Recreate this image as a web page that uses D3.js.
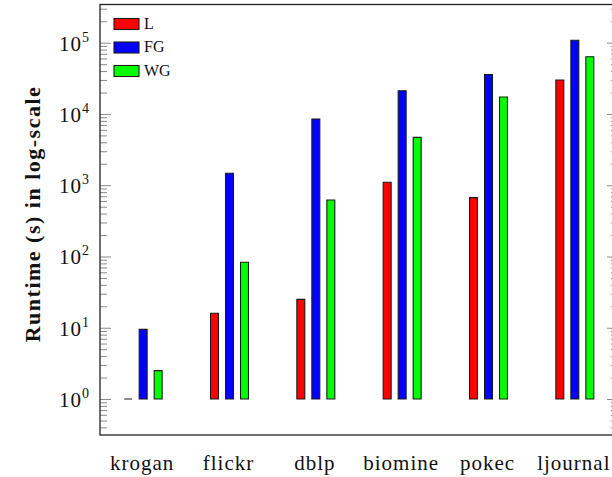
<!DOCTYPE html>
<html>
<head>
<meta charset="utf-8">
<script src="https://cdn.jsdelivr.net/npm/d3@7/dist/d3.min.js"></script>
<style>
  html, body { margin: 0; padding: 0; background: #fff; }
  svg { display: block; }
  text { font-family: "Liberation Serif", "DejaVu Serif", serif; fill: #111; }
</style>
</head>
<body>
<svg id="chart" width="612" height="477"></svg>
<script>
// Runtime per dataset for the three methods
const categories = ["krogan", "flickr", "dblp", "biomine", "pokec", "ljournal"];
const seriesNames = ["L", "FG", "WG"];
const valuesL  = [1, 16, 25, 1100, 670, 30000];
const valuesFG = [9.5, 1470, 8500, 21200, 35600, 108000];
const valuesWG = [2.5, 83, 620, 4700, 17300, 63600];
const seriesColors = ["#ff0000", "#0000ff", "#00ff00"];
const majorTicks = [1, 10, 100, 1000, 10000, 100000];
const tickExponents = ["0", "1", "2", "3", "4", "5"];

const svg = d3.select("#chart");
const plot = { left: 100, right: 618, top: 4.5, bottom: 435 };

const x0 = d3.scalePoint().domain(categories).range([plot.left, plot.right]).padding(0.5);
const x1 = d3.scaleBand().domain(seriesNames).range([-22.5, 22.5]).paddingInner(0.47).paddingOuter(0.235);
const y = d3.scaleLog().domain([Math.pow(10, -0.505), Math.pow(10, 5.536)]).range([plot.bottom, plot.top]);
const color = d3.scaleOrdinal().domain(seriesNames).range(seriesColors);

const seriesValues = [valuesL, valuesFG, valuesWG];
const bars = [];
categories.forEach((c, i) => {
  seriesNames.forEach((s, j) => bars.push({ cat: c, series: s, value: seriesValues[j][i] }));
});

// minor + major ticks on left (inward) and right (inward)
const allTicks = y.ticks().filter(t => t >= y.domain()[0] && t <= y.domain()[1]);
const isMajor = t => Math.abs(Math.log10(t) - Math.round(Math.log10(t))) < 1e-9;

const leftAxis = d3.axisRight(y).tickValues(allTicks).tickFormat("").tickSizeOuter(0);
const gL = svg.append("g").attr("transform", `translate(${plot.left},0)`).call(leftAxis);
gL.select(".domain").remove();
gL.selectAll(".tick line")
  .attr("x2", d => isMajor(d) ? 11 : 7)
  .attr("stroke", "#8a8a8a").attr("stroke-width", 1);

const rightAxis = d3.axisLeft(y).tickValues(allTicks).tickFormat("").tickSizeOuter(0);
const gR = svg.append("g").attr("transform", `translate(${plot.right},0)`).call(rightAxis);
gR.select(".domain").remove();
gR.selectAll(".tick line")
  .attr("x2", d => isMajor(d) ? -11 : -7)
  .attr("stroke", "#8a8a8a").attr("stroke-width", 1);

// bars (drawn as closed paths so a zero-height bar still shows its outline)
svg.append("g").selectAll("path.bar").data(bars).join("path")
  .attr("class", "bar")
  .attr("d", d => {
    const xl = x0(d.cat) + x1(d.series);
    const w = x1.bandwidth();
    const yt = y(d.value), yb = y(1);
    const p = d3.path();
    p.rect(xl, yt, w, yb - yt);
    return p.toString();
  })
  .attr("fill", d => color(d.series))
  .attr("stroke", "#1a1a1a")
  .attr("stroke-width", 1.1);

// frame
svg.append("rect")
  .attr("x", plot.left).attr("y", plot.top)
  .attr("width", plot.right - plot.left).attr("height", plot.bottom - plot.top)
  .attr("fill", "none").attr("stroke", "#222").attr("stroke-width", 1.3);

// y tick labels 10^k
const yLabels = svg.append("g");
majorTicks.forEach((t, i) => {
  const txt = yLabels.append("text")
    .attr("x", 89).attr("y", y(t) + 8)
    .attr("text-anchor", "end")
    .style("font-size", "21px");
  txt.append("tspan").style("letter-spacing", "1px").text("10");
  txt.append("tspan").attr("dy", -9).style("font-size", "14px").text(tickExponents[i]);
});

// x category labels
svg.append("g").selectAll("text.cat").data(categories).join("text")
  .attr("class", "cat")
  .attr("x", d => x0(d) - 1).attr("y", 470)
  .attr("text-anchor", "middle")
  .style("font-size", "21px").style("letter-spacing", "1px")
  .text(d => d);

// y axis title
svg.append("text")
  .attr("transform", "translate(40,214) rotate(-90)")
  .attr("text-anchor", "middle")
  .style("font-size", "22px").style("font-weight", "bold").style("letter-spacing", "1.5px")
  .text("Runtime (s) in log-scale");

// legend
const legend = svg.append("g");
seriesNames.forEach((s, i) => {
  const ly = 18.5 + i * 23.5;
  legend.append("rect").attr("x", 114).attr("y", ly).attr("width", 25).attr("height", 11)
    .attr("fill", color(s)).attr("stroke", "#1a1a1a").attr("stroke-width", 1.1);
  legend.append("text").attr("x", 144).attr("y", ly + 10)
    .style("font-size", "16px").text(s);
});
</script>
</body>
</html>
